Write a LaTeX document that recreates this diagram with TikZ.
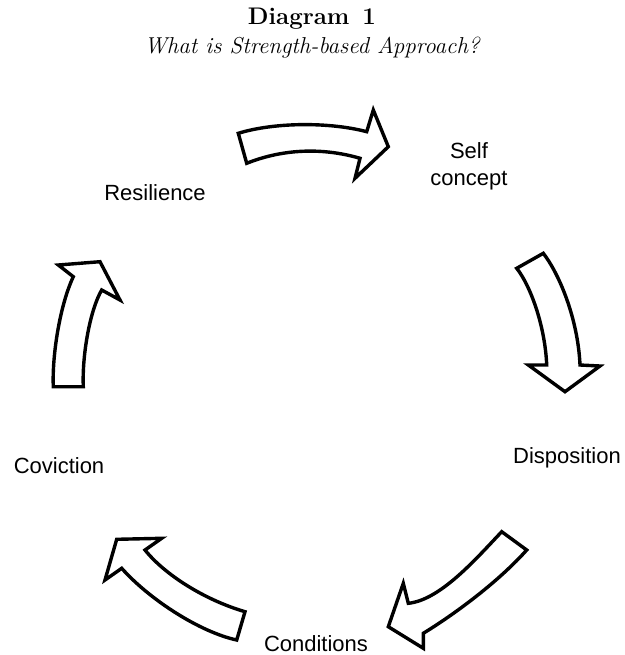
\documentclass[tikz,border=0pt]{standalone}
\usepackage{fontspec}
\newfontfamily\labelfont{Liberation Sans}
\tikzset{
  cyclearrow/.style={draw=black, fill=white, line width=3.4bp, line join=miter},
  steplabel/.style={font=\labelfont\fontsize{22bp}{26.7bp}\selectfont, align=center, inner sep=0pt, anchor=base},
}
\begin{document}
\begin{tikzpicture}[x=1bp,y=-1bp]
\useasboundingbox (0,0) rectangle (625,655);
% titles
\node[anchor=base, inner sep=0pt, font=\bfseries\fontsize{24bp}{28bp}\selectfont] (title) at (312,25) {Diagram\, 1};
\node[anchor=base, inner sep=0pt, font=\itshape\fontsize{23bp}{27bp}\selectfont] (subtitle) at (312,54) {What is Strength-based Approach?};
% labels
\node[steplabel] (res) at (155,200) {Resilience};
\node[steplabel] (self) at (469,185) {Self\\concept};
\node[steplabel] (disp) at (567,463.3) {Disposition};
\node[steplabel] (conv) at (59,473.3) {Coviction};
\node[steplabel] (cond) at (316,651.7) {Conditions};
% arrow 1 (top)
\draw[cyclearrow] (238.3,133.3) .. controls (275,122) and (330,122) .. (366.7,131.7)
  -- (373.3,110) -- (388.3,146.7) -- (355,178.3) -- (360,158.3)
  .. controls (325,148) and (285,148) .. (246.7,163.3) -- cycle;
% arrow 2 (right)
\draw[cyclearrow] (516.7,268.3) -- (543.3,253.3) .. controls (560,275) and (578,320) .. (580,365)
  -- (600,366) -- (565,391.7) -- (528.3,365) -- (546.7,365)
  .. controls (545,325) and (530,285) .. (516.7,268.3) -- cycle;
% arrow 3 (lower right)
\draw[cyclearrow] (501.7,531.7) -- (526.7,550) .. controls (500,580) and (458,612) .. (423.3,633.3)
  -- (423.3,648.3) -- (388.3,626.7) -- (403.3,583.3) -- (408.3,603.3)
  .. controls (440,600) and (475,560) .. (501.7,531.7) -- cycle;
% arrow 4 (lower left)
\draw[cyclearrow] (116.7,539.3) -- (161.7,538.3) -- (145,550)
  .. controls (165,575) and (205,600) .. (245,611.7) -- (236.7,640)
  .. controls (200,632) and (150,600) .. (121.7,568.3) -- (105,580) -- cycle;
% arrow 5 (left)
\draw[cyclearrow] (53.3,386.7) -- (83.3,386.7) .. controls (82,355) and (90,310) .. (101.7,290)
  -- (120,300) -- (100,261.7) -- (58.3,265) -- (73.3,276.7)
  .. controls (60,305) and (52,355) .. (53.3,386.7) -- cycle;
\end{tikzpicture}
\end{document}
